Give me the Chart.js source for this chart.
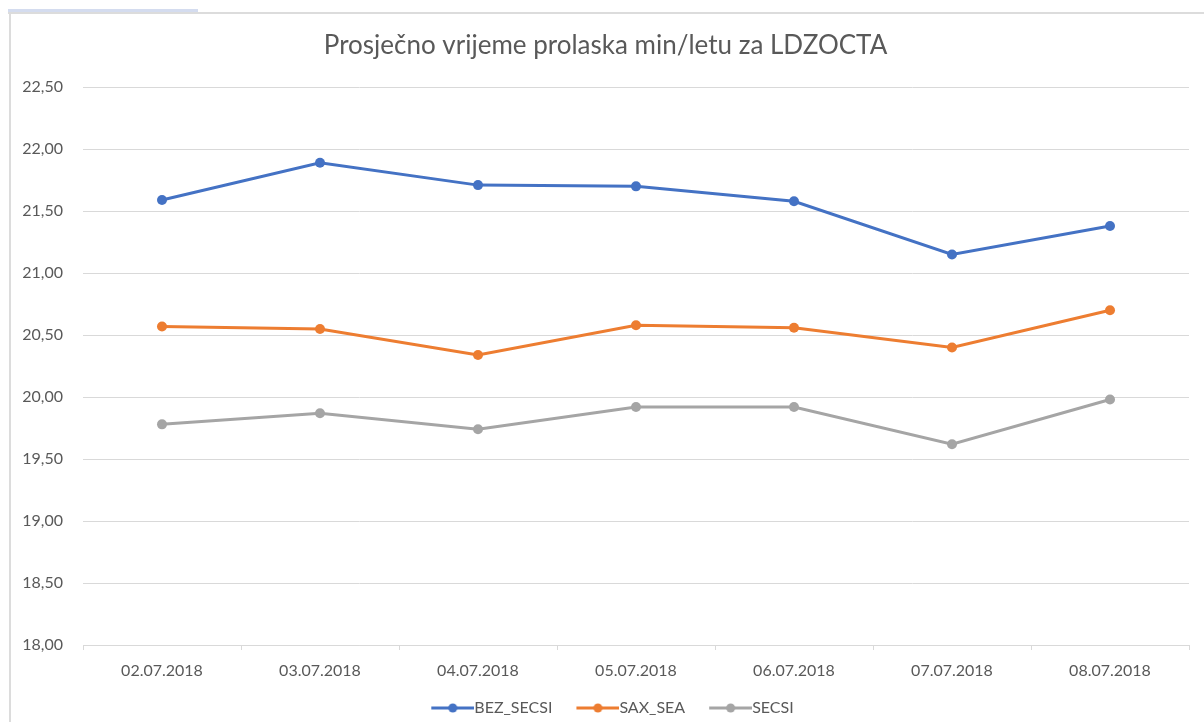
<!DOCTYPE html>
<html>
<head>
<meta charset="utf-8">
<script src="https://cdn.jsdelivr.net/npm/chart.js@4"></script>
<style>
  body { margin: 0; background: #fff; }
  #wrap { position: absolute; left: 0; top: 0; width: 1204px; height: 722px; }
  #topline { position: absolute; left: 8px; top: 12px; width: 1196px; height: 2px; background: #dcdcdc; }
  #tab { position: absolute; left: 8px; top: 9px; width: 190px; height: 4px; background: #d4dcef; }
  #leftline { position: absolute; left: 9px; top: 13px; width: 2px; height: 709px; background: #dcdcdc; }
</style>
</head>
<body>
<div id="tab"></div>
<div id="topline"></div>
<div id="leftline"></div>
<div id="wrap"><canvas id="chart"></canvas></div>
<script>
var days = ["02.07.2018", "03.07.2018", "04.07.2018", "05.07.2018", "06.07.2018", "07.07.2018", "08.07.2018"];
var bezSecsi = [21.59, 21.89, 21.71, 21.70, 21.58, 21.15, 21.38];
var saxSea = [20.57, 20.55, 20.34, 20.58, 20.56, 20.40, 20.70];
var secsi = [19.78, 19.87, 19.74, 19.92, 19.92, 19.62, 19.98];

var textColor = "#595959";
var gridColor = "#d9d9d9";
var fontName = "Lato, 'Open Sans', sans-serif";

// legend marker: a short line with a dot in the middle
function legendMark(color) {
  var c = document.createElement("canvas");
  c.width = 51;
  c.height = 12;
  var g = c.getContext("2d");
  g.strokeStyle = color;
  g.lineWidth = 3;
  g.beginPath();
  g.moveTo(8, 6);
  g.lineTo(51, 6);
  g.stroke();
  g.fillStyle = color;
  g.beginPath();
  g.arc(29.5, 6, 4.5, 0, Math.PI * 2);
  g.fill();
  return c;
}

function series(label, values, color) {
  return {
    label: label,
    data: values,
    borderColor: color,
    backgroundColor: color,
    borderWidth: 3,
    pointRadius: 5,
    pointBorderWidth: 0,
    pointBackgroundColor: color,
    tension: 0,
    mark: legendMark(color)
  };
}

// excel centres the legend a bit further right than chart.js does
var nudgeLegend = {
  id: "nudgeLegend",
  afterLayout: function (chart) {
    chart.legend.left += 7;
    chart.legend.right += 7;
  }
};

var ctx = document.getElementById("chart").getContext("2d");
var chart = new Chart(ctx, {
  type: "line",
  data: {
    labels: days,
    datasets: [
      series("BEZ_SECSI", bezSecsi, "#4472c4"),
      series("SAX_SEA", saxSea, "#ed7d31"),
      series("SECSI", secsi, "#a5a5a5")
    ]
  },
  plugins: [nudgeLegend],
  options: {
    responsive: true,
    maintainAspectRatio: false,
    animation: false,
    layout: { padding: { top: 14, left: 22, right: 15, bottom: -4 } },
    plugins: {
      title: {
        display: true,
        text: "Prosječno vrijeme prolaska min/letu za LDZOCTA",
        color: textColor,
        font: { family: fontName, size: 26, weight: "normal" },
        padding: { top: 16, bottom: 26 }
      },
      legend: {
        position: "bottom",
        labels: {
          color: textColor,
          font: { family: fontName, size: 16 },
          usePointStyle: true,
          pointStyleWidth: 35,
          padding: 24,
          generateLabels: function (chart) {
            return chart.data.datasets.map(function (ds, i) {
              return {
                text: ds.label,
                pointStyle: ds.mark,
                fillStyle: ds.borderColor,
                strokeStyle: ds.borderColor,
                lineWidth: 0,
                fontColor: textColor,
                hidden: false,
                datasetIndex: i
              };
            });
          }
        }
      },
      tooltip: { enabled: false }
    },
    scales: {
      x: {
        offset: true,
        grid: {
          offset: true,
          drawOnChartArea: false,
          drawTicks: true,
          tickLength: 5,
          color: gridColor
        },
        border: { display: true, color: gridColor, width: 1 },
        ticks: {
          color: textColor,
          font: { family: fontName, size: 16 },
          padding: 11,
          maxRotation: 0
        },
        afterFit: function (scale) { scale.height = 31; }
      },
      y: {
        min: 18,
        max: 22.5,
        grid: { color: gridColor, drawTicks: false },
        border: { display: false },
        ticks: {
          stepSize: 0.5,
          color: textColor,
          font: { family: fontName, size: 16 },
          padding: 20,
          callback: function (v) { return v.toFixed(2).replace(".", ","); }
        },
        afterFit: function (scale) { scale.width = 61; }
      }
    }
  }
});
</script>
</body>
</html>
